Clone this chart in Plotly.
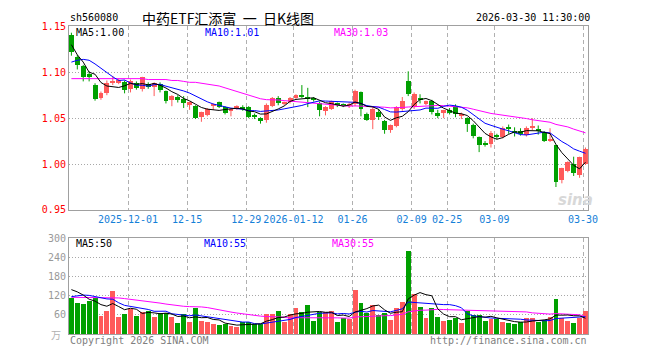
import plotly.graph_objects as go

# ---------------- data ----------------
open_ = [1.140, 1.116, 1.106, 1.098, 1.086, 1.072, 1.077, 1.089, 1.089, 1.089,
         1.081, 1.088, 1.081, 1.087, 1.084, 1.087, 1.079, 1.069, 1.073, 1.071,
         1.065, 1.063, 1.051, 1.053, 1.063, 1.067, 1.062, 1.057, 1.060, 1.062,
         1.062, 1.053, 1.050, 1.048, 1.063, 1.072, 1.066, 1.067, 1.072, 1.074,
         1.073, 1.071, 1.066, 1.057, 1.060, 1.066, 1.064, 1.063, 1.065, 1.078,
         1.054, 1.048, 1.056, 1.047, 1.037, 1.041, 1.060, 1.090, 1.062, 1.072,
         1.066, 1.068, 1.055, 1.055, 1.058, 1.063, 1.052, 1.050, 1.042, 1.029,
         1.023, 1.021, 1.031, 1.029, 1.040, 1.035, 1.036, 1.031, 1.039, 1.037,
         1.035, 1.025, 1.020, 0.982, 0.992, 1.000, 0.988, 1.000]
high = [1.143, 1.119, 1.108, 1.101, 1.088, 1.079, 1.091, 1.096, 1.093, 1.091,
        1.092, 1.090, 1.095, 1.089, 1.089, 1.089, 1.080, 1.075, 1.075, 1.074,
        1.068, 1.064, 1.057, 1.061, 1.066, 1.068, 1.063, 1.061, 1.064, 1.064,
        1.063, 1.055, 1.051, 1.066, 1.073, 1.074, 1.068, 1.073, 1.076, 1.086,
        1.083, 1.073, 1.068, 1.063, 1.069, 1.067, 1.066, 1.067, 1.081, 1.079,
        1.056, 1.062, 1.060, 1.048, 1.043, 1.063, 1.073, 1.101, 1.078, 1.076,
        1.069, 1.070, 1.059, 1.059, 1.061, 1.065, 1.056, 1.051, 1.044, 1.030,
        1.025, 1.036, 1.033, 1.041, 1.043, 1.040, 1.039, 1.041, 1.050, 1.042,
        1.036, 1.039, 1.021, 0.996, 1.003, 1.008, 1.008, 1.018]
low = [1.118, 1.103, 1.090, 1.090, 1.069, 1.070, 1.075, 1.086, 1.087, 1.077,
       1.078, 1.081, 1.079, 1.082, 1.074, 1.078, 1.066, 1.063, 1.067, 1.061,
       1.059, 1.049, 1.046, 1.052, 1.059, 1.061, 1.054, 1.052, 1.059, 1.058,
       1.050, 1.049, 1.044, 1.045, 1.062, 1.064, 1.064, 1.066, 1.071, 1.072,
       1.062, 1.068, 1.052, 1.053, 1.059, 1.062, 1.062, 1.061, 1.063, 1.052,
       1.047, 1.038, 1.048, 1.033, 1.034, 1.040, 1.058, 1.074, 1.060, 1.066,
       1.064, 1.054, 1.050, 1.050, 1.054, 1.051, 1.049, 1.035, 1.028, 1.013,
       1.019, 1.018, 1.027, 1.028, 1.033, 1.030, 1.031, 1.030, 1.037, 1.032,
       1.024, 1.024, 0.975, 0.979, 0.991, 0.987, 0.985, 0.999]
close = [1.122, 1.107, 1.095, 1.094, 1.071, 1.077, 1.088, 1.090, 1.091, 1.080,
         1.090, 1.083, 1.094, 1.084, 1.088, 1.080, 1.068, 1.074, 1.069, 1.066,
         1.067, 1.050, 1.056, 1.060, 1.064, 1.062, 1.055, 1.060, 1.063, 1.060,
         1.051, 1.051, 1.047, 1.064, 1.072, 1.066, 1.067, 1.072, 1.075, 1.073,
         1.071, 1.070, 1.058, 1.062, 1.068, 1.064, 1.063, 1.064, 1.079, 1.060,
         1.048, 1.060, 1.051, 1.037, 1.042, 1.062, 1.068, 1.076, 1.076, 1.069,
         1.068, 1.056, 1.053, 1.058, 1.056, 1.054, 1.053, 1.043, 1.030, 1.020,
         1.021, 1.034, 1.030, 1.039, 1.038, 1.034, 1.032, 1.039, 1.040, 1.036,
         1.025, 1.026, 0.980, 0.995, 1.002, 0.990, 1.007, 1.016]
volume = [112, 97, 93, 102, 112, 57, 72, 135, 55, 63,
          79, 57, 69, 72, 55, 65, 67, 55, 34, 63,
          37, 81, 42, 37, 33, 29, 32, 25, 22, 39,
          39, 31, 31, 63, 63, 72, 37, 63, 82, 70,
          91, 42, 69, 69, 72, 39, 49, 47, 139, 97,
          67, 90, 60, 65, 45, 82, 99, 259, 124, 85,
          49, 82, 55, 42, 45, 49, 34, 72, 59, 59,
          42, 47, 47, 37, 34, 31, 39, 49, 51, 39,
          45, 54, 109, 49, 42, 34, 52, 72]

# moving-average values visible at the left edge (their windows start before the chart)
ma5_lead = [1.130, 1.119, 1.111, 1.100]
ma10_lead = [1.111, 1.113, 1.114, 1.113, 1.109, 1.104, 1.099, 1.095, 1.091]
ma30_lead = [1.093, 1.093, 1.093, 1.093, 1.093, 1.093, 1.093, 1.093, 1.093, 1.093,
             1.093, 1.093, 1.093, 1.092, 1.092, 1.092, 1.092, 1.091, 1.091, 1.090,
             1.089, 1.089, 1.088, 1.087, 1.086, 1.085, 1.083, 1.081, 1.079]
vma5_lead = [139, 132, 122, 109]
vma10_lead = [117, 120, 122, 121, 117, 113, 110, 109, 98]
vma30_lead = [115, 115, 115, 115, 115, 115, 115, 115, 113, 111,
              109, 107, 105, 102, 100, 97, 94, 91, 88, 87,
              86, 86, 85, 83, 79, 76, 72, 69, 66]

tick_idx = [10, 20, 30, 38, 48, 58, 64, 72, 87]
tick_text = ["2025-12-01", "12-15", "12-29", "2026-01-12", "01-26",
             "02-09", "02-25", "03-09", "03-30"]
price_ticks = [0.95, 1.00, 1.05, 1.10, 1.15]
price_tick_text = ["0.95", "1.00", "1.05", "1.10", "1.15"]
vol_ticks = [60, 120, 180, 240, 300]
vol_tick_text = ["60", "120", "180", "240", "300"]

title_text = "中药ETF汇添富&nbsp; 一&nbsp; 日K线图"
code_text = "sh560080"
time_text = "2026-03-30 11:30:00"
ma_price_labels = ["MA5:1.00", "MA10:1.01", "MA30:1.03"]
ma_vol_labels = ["MA5:50", "MA10:55", "MA30:55"]


def moving_avg(vals, n, lead):
    out = list(lead)
    for i in range(len(lead), len(vals)):
        out.append(sum(vals[i - n + 1:i + 1]) / n)
    return out


# ---------------- figure ----------------
W, H = 660, 360
RED = "#ff5a5a"
GREEN = "#00a000"
MONO = "DejaVu Sans Mono"

n = len(close)
xs_all = list(range(n))
up = [c >= o for o, c in zip(open_, close)]

fig = go.Figure()
for flag, col in ((True, RED), (False, GREEN)):
    xs = [i for i in xs_all if up[i] == flag]
    wx, wy = [], []
    for i in xs:
        wx += [i, i, None]
        wy += [low[i], high[i], None]
    fig.add_trace(go.Scatter(x=wx, y=wy, mode="lines", line=dict(color=col, width=1),
                             xaxis="x", yaxis="y", hoverinfo="skip"))
    fig.add_trace(go.Bar(x=xs, y=[max(abs(close[i] - open_[i]), 0.0011) for i in xs],
                         base=[min(open_[i], close[i]) for i in xs], width=0.83,
                         marker=dict(color=col, line=dict(width=0)),
                         xaxis="x", yaxis="y"))
    fig.add_trace(go.Bar(x=xs, y=[volume[i] for i in xs], width=0.83,
                         marker=dict(color=col, line=dict(width=0)),
                         xaxis="x2", yaxis="y2"))

ma_specs = [(5, ma5_lead, vma5_lead, "#000000"),
            (10, ma10_lead, vma10_lead, "#0000ff"),
            (30, ma30_lead, vma30_lead, "#ff00ff")]
for period, lead, vlead, col in reversed(ma_specs):
    fig.add_trace(go.Scatter(x=xs_all, y=moving_avg(close, period, lead), mode="lines",
                             line=dict(color=col, width=1), xaxis="x", yaxis="y"))
    fig.add_trace(go.Scatter(x=xs_all, y=moving_avg(volume, period, vlead), mode="lines",
                             line=dict(color=col, width=1), xaxis="x2", yaxis="y2"))

xdom = [70 / W, 597 / W]
xrng = [-0.4167, n - 0.5833]
grid_x = [t - 0.42 for t in tick_idx]
common_x = dict(domain=xdom, range=xrng, tickvals=grid_x, showgrid=True,
                gridcolor="#b0b0b0", griddash="4px,3px", gridwidth=1,
                showline=True, mirror=True, linecolor="#a0a0a0", linewidth=1,
                ticks="", zeroline=False, fixedrange=True)
common_y = dict(showgrid=True, gridcolor="#a8a8a8", griddash="1px,2px", gridwidth=1,
                showline=True, mirror=True, linecolor="#a0a0a0", linewidth=1,
                ticks="", zeroline=False, fixedrange=True)

fig.update_layout(
    width=W, height=H, margin=dict(l=0, r=0, t=0, b=0),
    paper_bgcolor="white", plot_bgcolor="white", showlegend=False,
    barmode="overlay", bargap=0,
    xaxis=dict(anchor="y", ticktext=tick_text,
               tickfont=dict(family=MONO, size=10, color="#1580d8"), **common_x),
    xaxis2=dict(anchor="y2", showticklabels=False, **common_x),
    yaxis=dict(anchor="x", domain=[(H - 211) / H, (H - 21) / H], range=[0.95, 1.15],
               tickvals=price_ticks, ticktext=price_tick_text,
               tickfont=dict(family=MONO, size=10, color="#ff0000"), **common_y),
    yaxis2=dict(anchor="x2", domain=[(H - 339.5) / H, (H - 240) / H], range=[0, 300],
                tickvals=vol_ticks, ticktext=vol_tick_text,
                tickfont=dict(family=MONO, size=10, color="#999999"), **common_y),
)


def ann(text, x, y, color="#000000", size=10, family=MONO, xanchor="left", yanchor="middle"):
    fig.add_annotation(text=text, x=x / W, y=1 - y / H, xref="paper", yref="paper",
                       showarrow=False, xanchor=xanchor, yanchor=yanchor,
                       font=dict(family=family, size=size, color=color))


ann(code_text, 69, 12)
ann(title_text, 232, 12, size=14, family="Noto Sans CJK SC", xanchor="center")
ann(time_text, 601, 12, xanchor="right")
ma_cols = ["#000000", "#0000ff", "#ff00ff"]
for lbl, xp, col in zip(ma_price_labels, [75, 206, 337], ma_cols):
    ann(lbl, xp, 27, color=col)
for lbl, xp, col in zip(ma_vol_labels, [75, 205, 335], ma_cols):
    ann(lbl, xp, 246, color=col)
ann("万", 57, 340, color="#b0b0b0", size=10, family="Noto Sans CJK SC", xanchor="center")
ann("Copyright 2026 SINA.COM", 69, 346, color="#808080")
ann("http://finance.sina.com.cn", 598, 346, color="#808080", xanchor="right")
ann("<i><b>sina</b></i>", 584, 201, color="#d8d8d8", size=15, family="DejaVu Sans",
    xanchor="center")

fig.write_html("out.html", config={"displayModeBar": False},
               post_script="document.body.style.margin='0';")
